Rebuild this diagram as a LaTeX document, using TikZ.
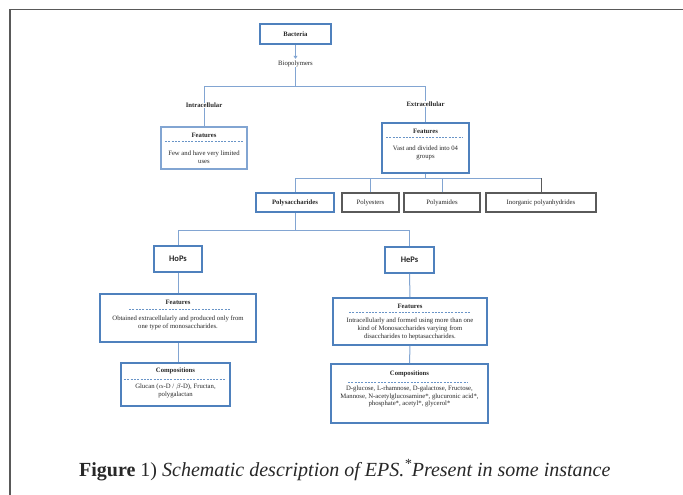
\documentclass[tikz,border=0pt]{standalone}
\usepackage{fontspec}
\setmainfont{Liberation Serif}
\newfontfamily\hopsfont{Carlito}
\usetikzlibrary{arrows.meta}
\definecolor{boxblue}{RGB}{79,129,189}
\definecolor{linkblue}{RGB}{130,165,210}
\definecolor{boxgrey}{RGB}{90,90,90}
\definecolor{txtgrey}{RGB}{40,40,40}
\tikzstyle{bluebox} = [rectangle, draw=boxblue, line width=1.6pt, inner sep=0pt, text=txtgrey]
\tikzstyle{thinbox} = [rectangle, draw=linkblue, line width=1.1pt, inner sep=0pt]
\tikzstyle{greybox} = [rectangle, draw=boxgrey, line width=1.3pt, inner sep=0pt, text=txtgrey, minimum height=19pt]
\tikzstyle{link} = [draw=linkblue, line width=1pt]
\tikzstyle{greylink} = [draw=boxgrey, line width=1pt]
\tikzstyle{divider} = [draw=boxblue!85, line width=0.7pt, dash pattern=on 2pt off 1.3pt]
\tikzstyle{label} = [inner sep=0pt, text=txtgrey, align=center, font=\fontsize{6.7}{7.8}\selectfont]
\tikzstyle{title} = [label, font=\fontsize{6.7}{7.8}\selectfont\bfseries]
\newcommand{\hdr}[2]{\node [title] at #1 {#2};}

\begin{document}
\begin{tikzpicture}[x=1pt, y=-1pt]
	\useasboundingbox (0,0) rectangle (683,495);
	\fill[white] (0,0) rectangle (683,495);
	\draw[gray!70!black, line width=1.6pt] (10,495) -- (10,9.5) -- (683,9.5);

	\node [bluebox, minimum width=71pt, minimum height=20pt, font=\fontsize{6.7}{7.8}\selectfont\bfseries] (bact) at (295.5,34) {Bacteria};
	\node [label] (bio) at (295.5,64) {Biopolymers};
	\node [title] (intra) at (204,105.5) {Intracellular};
	\node [title] (extra) at (425.5,104) {Extracellular};

	\node [thinbox, minimum width=86pt, minimum height=42pt] (lfeat) at (204,148) {};
	\hdr{(204,135)}{Features}
	\draw[divider] (165,141) -- (243,141);
	\node [label] (lbody) at (204,157) {Few and have very limited\\uses};

	\node [bluebox, minimum width=87pt, minimum height=50pt] (rfeat) at (425.5,148) {};
	\hdr{(425.5,131)}{Features}
	\draw[divider] (386,137) -- (463,137);
	\node [label] (rbody) at (425.5,153) {Vast and divided into 04\\groups};

	\node [bluebox, minimum width=78pt, minimum height=19pt, font=\fontsize{6.7}{7.8}\selectfont\bfseries] (poly) at (295,202.5) {Polysaccharides};
	\node [greybox, minimum width=57pt, font=\fontsize{6.7}{7.8}\selectfont] (pest) at (370.5,202.5) {Polyesters};
	\node [greybox, minimum width=76pt, font=\fontsize{6.7}{7.8}\selectfont] (pamide) at (442,202.5) {Polyamides};
	\node [greybox, minimum width=110pt, font=\fontsize{6.7}{7.8}\selectfont] (inorg) at (541,202.5) {Inorganic polyanhydrides};

	\node [bluebox, minimum width=48pt, minimum height=26pt, font=\hopsfont\fontsize{8.5}{10}\selectfont\bfseries] (hops) at (178,259) {HoPs};
	\node [bluebox, minimum width=49pt, minimum height=26pt, font=\hopsfont\fontsize{8.5}{10}\selectfont\bfseries] (heps) at (409.5,260) {HePs};

	\node [bluebox, minimum width=156pt, minimum height=48pt] (hfeat) at (178,318) {};
	\hdr{(178,302)}{Features}
	\draw[divider] (129,309) -- (230,309);
	\node [label] (hfbody) at (178,322.5) {Obtained extracellularly and produced only from\\one type of monosaccharides.};

	\node [bluebox, minimum width=109pt, minimum height=43pt] (hcomp) at (175.5,384.5) {};
	\hdr{(175.5,371)}{Compositions}
	\draw[divider] (124,379) -- (225,379);
	\node [label] (hcbody) at (175.5,390.5) {Glucan ($\alpha$-D / $\beta$-D), Fructan,\\polygalactan};

	\node [bluebox, minimum width=154pt, minimum height=47pt] (efeat) at (410,321.5) {};
	\hdr{(410,306)}{Features}
	\draw[divider] (349,312) -- (470,312);
	\node [label] (efbody) at (410,329) {Intracellularly and formed using more than one\\kind of Monosaccharides varying from\\disaccharides to heptasaccharides.};

	\node [bluebox, minimum width=157pt, minimum height=59pt] (ecomp) at (409.5,393.5) {};
	\hdr{(409.5,374)}{Compositions}
	\draw[divider] (348,382) -- (468,382);
	\node [label] (ecbody) at (409.5,396.5) {D-glucose, L-rhamnose, D-galactose, Fructose,\\Mannose, N-acetylglucosamine*, glucuronic acid*,\\phosphate*, acetyl*, glycerol*};

	\coordinate (topbus) at (295.5,87);
	\coordinate (rbus) at (426,178);
	\coordinate (pbus) at (295,230);
	\draw[link, -{Triangle[length=3pt, width=4pt]}] (bact.south) -- ++(0,14);
	\draw[link] (bio.south) -- (topbus);
	\draw[link] (intra.north) -- (intra.north |- topbus) -- (extra.north |- topbus) -- (extra.north);
	\draw[link] (intra.south) -- (lfeat.north);
	\draw[link] (extra.south) -- (rfeat.north);
	\draw[link] (rfeat.south) -- (rfeat.south |- rbus);
	\draw[link] (poly.north) -- (poly.north |- rbus) -- (inorg.north |- rbus);
	\draw[link] (pest.north) -- (pest.north |- rbus);
	\draw[link] (pamide.north) -- (pamide.north |- rbus);
	\draw[greylink] (inorg.north) -- (inorg.north |- rbus);
	\draw[link] (poly.south) -- (pbus);
	\draw[link] (hops.north) -- (hops.north |- pbus) -- (heps.north |- pbus) -- (heps.north);
	\draw[link] (hops.south) -- (hfeat.north);
	\draw[link] (hfeat.south) -- (hfeat.south |- hcomp.north);
	\draw[link] (heps.south) -- (efeat.north);
	\draw[link] (efeat.south) -- (ecomp.north);

	\node [anchor=base west, inner sep=0pt, text=txtgrey, font=\fontsize{20}{24}\selectfont] (caption) at (79,476)
		{\textbf{Figure} 1) \textit{Schematic description of EPS.\textsuperscript{*}Present in some instance}};
\end{tikzpicture}
\end{document}
